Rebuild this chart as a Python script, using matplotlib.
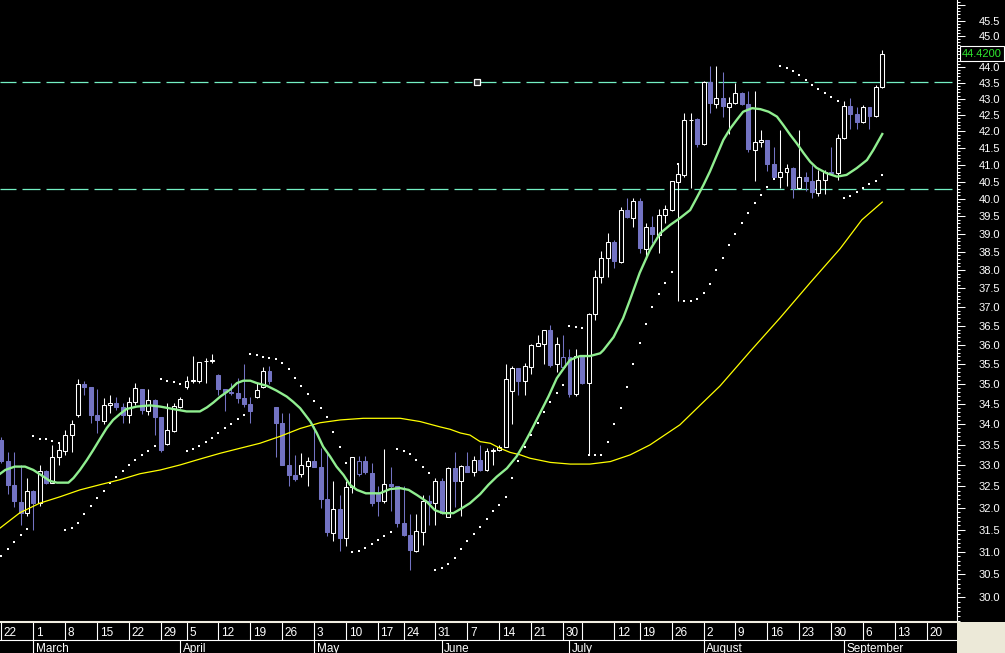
import numpy as np
import matplotlib
matplotlib.use("Agg")
import matplotlib.pyplot as plt
import matplotlib.transforms as mtransforms
from matplotlib.ticker import FixedLocator, NullFormatter, FuncFormatter
from matplotlib.patches import Rectangle

plt.rcParams['font.family'] = ['Liberation Sans', 'DejaVu Sans']
plt.rcParams['lines.scale_dashes'] = False

# ---------------------------------------------------------------------------
# daily prices (one entry per trading day, Feb 22 .. Sep 10)
# ---------------------------------------------------------------------------
opens = [33.61, 33.11, 32.54, 32.14, 31.88, 32.40, 32.12, 32.87, 32.59, 33.20,
         33.35, 33.72, 34.21, 35.00, 34.92, 34.23, 34.08, 34.47, 34.53, 34.43,
         34.21, 34.55, 34.87, 34.31, 34.60, 34.16, 33.51, 33.84, 34.43, 34.91,
         35.08, 35.08, 35.57, 35.59, 35.23, 34.87, 34.79, 34.78, 34.64, 34.50,
         34.67, 34.93, 35.33, 34.43, 34.02, 33.01, 32.77, 32.79, 32.99, 33.11,
         32.95, 32.21, 31.42, 31.98, 31.31, 32.48, 32.79, 33.11, 32.81, 32.34,
         32.15, 32.56, 32.50, 31.65, 31.38, 31.03, 31.46, 32.16, 32.11, 32.63,
         31.80, 32.93, 32.62, 32.99, 32.84, 33.13, 32.88, 33.35, 33.36, 33.45,
         34.81, 35.40, 35.06, 35.44, 35.98, 36.02, 36.39, 35.50, 35.42, 35.68,
         34.74, 35.70, 35.02, 36.81, 37.80, 38.32, 38.77, 38.23, 39.68, 39.46,
         39.94, 38.58, 39.21, 38.97, 39.54, 39.68, 40.50, 40.70, 42.35, 42.38,
         41.61, 43.52, 42.83, 43.02, 42.76, 42.86, 43.19, 42.84, 41.44, 41.67,
         41.74, 41.02, 40.63, 40.78, 40.90, 40.31, 40.63, 40.52, 40.18, 40.55,
         40.78, 40.75, 41.80, 42.78, 42.53, 42.28, 42.74, 42.47, 43.36]
highs = [33.69, 33.33, 33.32, 33.01, 32.71, 32.42, 33.01, 32.90, 33.49, 33.54,
         33.86, 34.10, 35.13, 35.06, 34.93, 34.87, 34.65, 34.72, 34.68, 34.53,
         34.68, 35.03, 34.88, 34.87, 34.62, 34.17, 34.52, 34.52, 34.67, 35.19,
         35.71, 35.56, 35.66, 35.76, 35.24, 34.88, 35.03, 35.15, 35.51, 34.68,
         35.02, 35.44, 35.45, 34.43, 34.28, 34.28, 33.25, 33.30, 33.20, 33.94,
         33.41, 33.33, 32.62, 32.29, 32.62, 33.20, 33.22, 33.22, 33.06, 32.51,
         33.39, 32.95, 32.51, 32.51, 31.86, 31.85, 32.29, 32.29, 32.70, 32.70,
         32.95, 33.33, 33.01, 33.33, 33.22, 33.49, 33.41, 33.41, 33.49, 35.51,
         35.46, 35.40, 35.53, 36.02, 36.26, 36.40, 36.52, 36.20, 36.26, 35.89,
         35.89, 35.72, 36.83, 38.00, 38.53, 39.02, 38.84, 39.78, 40.02, 40.04,
         40.04, 39.31, 39.51, 39.71, 39.83, 40.53, 41.02, 42.55, 42.55, 42.40,
         43.55, 44.03, 44.02, 43.85, 43.07, 43.50, 43.21, 43.25, 43.25, 42.04,
         41.75, 41.54, 42.04, 41.02, 40.94, 42.04, 40.78, 40.99, 40.85, 40.85,
         41.54, 41.92, 42.93, 43.02, 42.76, 42.81, 42.75, 43.43, 44.54]
lows = [33.05, 32.33, 32.03, 31.61, 31.82, 31.50, 32.05, 32.55, 32.58, 33.01,
        33.25, 33.33, 34.18, 34.72, 34.03, 33.78, 34.00, 34.28, 34.35, 34.03,
        34.03, 34.47, 34.25, 34.23, 33.72, 33.32, 33.49, 33.81, 34.40, 34.87,
        35.03, 35.03, 35.03, 35.53, 34.72, 34.31, 34.72, 34.52, 34.43, 34.02,
        34.65, 34.89, 35.00, 33.21, 33.00, 32.51, 32.62, 32.73, 32.51, 32.95,
        31.99, 31.35, 31.25, 31.01, 31.14, 32.35, 32.75, 32.80, 32.05, 31.81,
        32.12, 31.92, 31.57, 31.35, 30.60, 30.99, 31.16, 31.61, 31.61, 31.85,
        31.78, 32.02, 31.82, 32.83, 32.75, 32.87, 32.86, 33.01, 33.35, 33.44,
        34.00, 34.72, 34.72, 35.25, 35.96, 35.51, 35.44, 35.31, 35.40, 34.68,
        34.70, 35.00, 33.25, 36.65, 37.64, 37.82, 38.05, 38.20, 39.45, 39.21,
        38.48, 38.30, 38.74, 38.46, 39.32, 39.65, 37.17, 40.65, 40.33, 41.54,
        41.58, 42.57, 42.70, 42.45, 41.92, 42.83, 42.80, 41.39, 40.53, 41.54,
        40.83, 40.64, 40.33, 40.39, 40.04, 40.30, 40.24, 40.04, 40.09, 40.14,
        40.75, 40.55, 41.78, 42.06, 42.06, 42.26, 42.06, 42.45, 43.34]
closes = [33.11, 32.54, 32.15, 31.89, 32.40, 32.12, 32.87, 32.59, 33.20, 33.37,
          33.73, 34.00, 35.00, 34.93, 34.23, 34.10, 34.47, 34.53, 34.43, 34.23,
          34.55, 34.90, 34.35, 34.60, 34.16, 33.37, 33.86, 34.45, 34.62, 35.08,
          35.10, 35.55, 35.59, 35.60, 34.87, 34.80, 34.78, 34.64, 34.50, 34.33,
          34.85, 35.33, 35.06, 34.02, 33.01, 32.77, 32.68, 33.00, 33.11, 32.97,
          32.21, 31.44, 31.98, 31.32, 32.48, 33.19, 33.11, 32.83, 32.12, 32.17,
          32.55, 32.50, 31.66, 31.38, 31.05, 31.48, 32.16, 32.11, 32.63, 31.89,
          32.93, 32.64, 32.99, 32.85, 33.13, 32.89, 33.35, 33.36, 33.45, 35.13,
          35.40, 35.08, 35.46, 36.00, 36.04, 36.39, 35.48, 36.02, 35.68, 34.75,
          35.71, 35.03, 36.81, 37.80, 38.32, 38.77, 38.26, 39.68, 39.49, 39.94,
          38.62, 39.21, 39.00, 39.54, 39.71, 40.52, 40.72, 42.35, 42.36, 41.62,
          43.52, 42.86, 43.02, 42.79, 42.86, 43.17, 42.84, 41.46, 41.67, 41.74,
          41.02, 40.65, 40.78, 40.90, 40.33, 40.63, 40.53, 40.21, 40.55, 40.79,
          40.76, 41.81, 42.78, 42.53, 42.30, 42.74, 42.48, 43.36, 44.42]

# parabolic SAR dots, one per day
sar = [30.91, 31.07, 31.22, 31.38, 31.51, 33.70, 33.64, 33.63, 33.58, 33.53,
       31.50, 31.54, 31.65, 31.86, 32.04, 32.23, 32.40, 32.58, 32.72, 32.86,
       33.01, 33.12, 33.24, 33.35, 33.46, 35.12, 35.08, 35.04, 35.00, 33.35,
       33.40, 33.47, 33.56, 33.65, 33.78, 33.90, 34.00, 34.12, 34.22, 35.77,
       35.73, 35.68, 35.65, 35.63, 35.53, 35.37, 35.14, 34.95, 34.74, 34.57,
       34.39, 34.17, 33.81, 33.45, 33.05, 30.99, 31.03, 31.08, 31.18, 31.26,
       31.35, 31.45, 33.39, 33.35, 33.27, 33.13, 32.97, 32.81, 30.60, 30.64,
       30.73, 30.86, 31.06, 31.24, 31.40, 31.56, 31.74, 31.93, 32.07, 32.25,
       32.70, 33.10, 33.44, 33.73, 34.03, 34.30, 34.55, 34.77, 34.97, 36.50,
       36.46, 36.43, 33.25, 33.25, 33.25, 33.56, 34.00, 34.39, 34.92, 35.51,
       36.06, 36.54, 37.01, 37.34, 37.65, 37.94, 41.02, 37.16, 37.16, 37.21,
       37.37, 37.61, 37.99, 38.33, 38.69, 39.00, 39.31, 39.59, 39.88, 40.12,
       40.34, 40.57, 44.03, 43.96, 43.87, 43.75, 43.59, 43.43, 43.31, 43.17,
       43.05, 42.93, 40.02, 40.09, 40.19, 40.31, 40.44, 40.51, 40.70]

# fast moving average (green) at day positions
ma_fast_x = [-0.2, 0.6, 2.1, 3.7, 5.0, 6.6, 7.6, 8.7, 10.5, 11.3, 12.3, 13.4,
             14.4, 15.5, 16.5, 17.5, 18.6, 19.6, 21.2, 23.3, 24.9, 26.9, 29.0,
             31.1, 32.2, 33.2, 34.3, 35.8, 36.9, 37.9, 39.0, 40.0, 41.6, 43.1,
             44.7, 45.7, 46.8, 48.4, 49.4, 50.4, 51.5, 52.5, 53.6, 54.6, 55.7,
             57.1, 59.3, 60.9, 62.5, 63.8, 65.1, 66.6, 67.9, 69.2, 70.8, 72.1,
             73.4, 75.0, 76.3, 77.6, 79.2, 80.7, 81.8, 82.8, 84.1, 85.7, 87.0,
             88.3, 89.1, 90.1, 90.7, 92.2, 93.8, 94.3, 95.9, 97.4, 98.5, 100.0,
             101.6, 103.2, 104.8, 106.3, 107.9, 108.9, 110.0, 111.0, 112.1,
             113.1, 114.2, 115.2, 116.2, 117.6, 118.9, 120.2, 121.5, 122.5,
             123.6, 124.6, 125.7, 126.7, 127.7, 129.3, 130.9, 132.4, 134.0,
             135.6, 136.6, 138.0]
ma_fast = [32.80, 32.89, 32.97, 32.97, 32.89, 32.73, 32.63, 32.59, 32.59, 32.70,
           32.89, 33.13, 33.37, 33.65, 33.90, 34.10, 34.25, 34.37, 34.43, 34.46,
           34.43, 34.37, 34.31, 34.31, 34.41, 34.53, 34.68, 34.85, 35.02, 35.08,
           35.08, 35.02, 34.95, 34.83, 34.68, 34.55, 34.39, 34.06, 33.78, 33.45,
           33.21, 32.97, 32.77, 32.54, 32.42, 32.34, 32.34, 32.44, 32.46, 32.42,
           32.30, 32.15, 31.95, 31.88, 31.88, 31.99, 32.11, 32.32, 32.54, 32.73,
           32.93, 33.21, 33.49, 33.78, 34.18, 34.68, 35.14, 35.44, 35.61, 35.68,
           35.71, 35.71, 35.78, 35.86, 36.20, 36.70, 37.20, 37.92, 38.55, 39.02,
           39.26, 39.45, 39.68, 40.02, 40.41, 40.80, 41.29, 41.74, 42.09, 42.35,
           42.60, 42.71, 42.68, 42.60, 42.45, 42.19, 41.89, 41.64, 41.34, 41.09,
           40.91, 40.75, 40.65, 40.70, 40.90, 41.14, 41.44, 41.92]

# slow moving average (yellow)
ma_slow_x = [-0.2, 2.9, 6.0, 9.2, 12.3, 15.4, 18.6, 21.7, 24.9, 28.0, 31.1,
             34.3, 37.4, 40.5, 43.7, 46.8, 49.9, 53.1, 56.7, 62.5, 65.6, 68.7,
             70.3, 71.9, 73.4, 75.0, 76.6, 78.1, 79.7, 81.3, 82.8, 86.0, 89.1,
             92.2, 95.4, 98.5, 101.6, 106.3, 109.5, 112.6, 117.3, 122.0, 126.7,
             131.4, 134.8, 138.0]
ma_slow = [31.54, 31.89, 32.11, 32.26, 32.42, 32.54, 32.66, 32.80, 32.89, 33.01,
           33.15, 33.29, 33.41, 33.53, 33.70, 33.89, 34.03, 34.10, 34.14, 34.14,
           34.06, 33.93, 33.87, 33.78, 33.73, 33.57, 33.53, 33.41, 33.31, 33.25,
           33.17, 33.07, 33.03, 33.03, 33.09, 33.25, 33.49, 33.98, 34.47, 34.95,
           35.83, 36.71, 37.65, 38.59, 39.40, 39.91]

# horizontal lines drawn by the user
levels = [43.51, 40.29]
level_handle_x = 74.5
last_price = 44.42

# date axis
week_pos = [0, 5, 10, 15, 20, 25, 29, 34, 39, 44, 49, 54, 59, 63, 68, 73, 78,
            83, 88, 91, 96, 100, 105, 110, 115, 120, 125, 130, 135, 140, 145]
week_labels = ['22', '1', '8', '15', '22', '29', '5', '12', '19', '26', '3',
               '10', '17', '24', '31', '7', '14', '21', '30', '', '12', '19',
               '26', '2', '9', '16', '23', '30', '6', '13', '20']
month_pos = [5, 28, 49, 69, 89, 110, 132]
month_labels = ['March', 'April', 'May', 'June', 'July', 'August', 'September']

##############################################################################

W, H = 1005, 653
XLIM = (-0.22, 149.63)
PURPLE = '#7373c3'
AQUA = '#74f0c4'
BEIGE = '#ece9d8'


def px_rect(x0, y0, x1, y1):
    # pixel box (top-left origin) -> figure fractions
    return [x0 / W, 1 - y1 / H, (x1 - x0) / W, (y1 - y0) / H]


fig = plt.figure(figsize=(W / 100, H / 100), dpi=100)
fig.patch.set_facecolor('black')

ax = fig.add_axes(px_rect(0, 0, 956.5, 622))
ax.set_facecolor('black')
ax.set_yscale('log')
ax.set_xlim(*XLIM)
ax.set_ylim(29.47, 46.18)

o = np.array(opens)
h = np.array(highs)
l = np.array(lows)
c = np.array(closes)
x = np.arange(len(c))
prev = np.concatenate([[c[0]], c[:-1]])

down = c < o                      # filled purple
weak = (~down) & (c < prev)       # hollow purple
line_col = np.where(down | weak, PURPLE, 'white')
face_col = np.where(down, PURPLE, 'black')

# levels (dashed)
for lv in levels:
    ax.axhline(lv, color=AQUA, lw=0.9, linestyle=(1.44, (12.96, 4.32)), zorder=1)
ax.plot([level_handle_x], [levels[0]], marker='s', ms=4.6, mfc='#333333',
        mec='white', mew=0.9, zorder=6)

# candles
ax.vlines(x, l, h, colors=line_col, lw=0.75, zorder=2)
body_lo = np.minimum(o, c)
body_h = np.maximum(np.abs(c - o), 0.004)
ax.bar(x, body_h, bottom=body_lo, width=0.62, color=face_col,
       edgecolor=line_col, linewidth=0.75, zorder=3)

# indicators
ax.scatter(x, sar, s=1.8, marker='s', color='white', linewidths=0, zorder=2)
ax.plot(ma_slow_x, ma_slow, color='#ffff00', lw=0.9, zorder=4)
ax.plot(ma_fast_x, ma_fast, color='#90ee90', lw=1.7, zorder=5)

# right price axis
for side in ['left', 'top', 'bottom']:
    ax.spines[side].set_visible(False)
ax.spines['right'].set_color('white')
ax.spines['right'].set_linewidth(0.8)
ax.set_xticks([])
ax.yaxis.tick_right()
ax.yaxis.set_major_locator(FixedLocator(np.arange(30.0, 46.01, 0.5)))
ax.yaxis.set_minor_locator(FixedLocator(np.arange(29.5, 46.2, 0.1)))
ax.yaxis.set_major_formatter(FuncFormatter(lambda v, p: '' if v > 45.9 else f'{v:.1f}'))
ax.yaxis.set_minor_formatter(NullFormatter())
ax.tick_params(axis='y', which='major', length=5.8, width=0.75, color='white',
               labelcolor='white', labelsize=8, pad=10)
ax.tick_params(axis='y', which='minor', length=2.2, width=0.75, color='white')

ax.text(1.0267, last_price, f'{last_price:.4f}', transform=ax.get_yaxis_transform(),
        ha='center', va='center', color='#2ee82e', fontsize=8, clip_on=False,
        zorder=10, bbox=dict(boxstyle='square,pad=0.22', fc='black', ec='white', lw=0.8))

# date rows
axd = fig.add_axes(px_rect(0, 622, 956.5, 640))
axm = fig.add_axes(px_rect(0, 640, 956.5, 653))
for a in (axd, axm):
    a.set_facecolor('black')
    a.set_xlim(*XLIM)
    a.set_ylim(0, 1)
    a.set_xticks([])
    a.set_yticks([])
    for side in ['left', 'right', 'bottom']:
        a.spines[side].set_visible(False)
axd.spines['top'].set_color('#f2eee2')
axd.spines['top'].set_linewidth(1.5)
axm.spines['top'].set_color('white')
axm.spines['top'].set_linewidth(0.8)

axd.vlines(week_pos, 0, 1, color='white', lw=0.8)
axm.vlines(month_pos, 0, 1, color='white', lw=0.8)

toff_d = mtransforms.offset_copy(axd.get_xaxis_transform(), fig=fig, x=2.5, units='dots')
toff_m = mtransforms.offset_copy(axm.get_xaxis_transform(), fig=fig, x=2.5, units='dots')
for p, lab in zip(week_pos, week_labels):
    axd.text(p, 0.2, lab, transform=toff_d, color='white', fontsize=8.5,
             ha='left', va='baseline')
for p, lab in zip(month_pos, month_labels):
    axm.text(p, 0.05, lab, transform=toff_m, color='white', fontsize=8.5,
             ha='left', va='baseline', clip_on=True)

# grey corner under the price axis
fig.add_artist(Rectangle((957 / W, 0), 48 / W, 31 / H, transform=fig.transFigure,
                         facecolor=BEIGE, edgecolor='none', zorder=5))

fig.savefig('out.png', dpi=100, facecolor='black')
plt.close(fig)
